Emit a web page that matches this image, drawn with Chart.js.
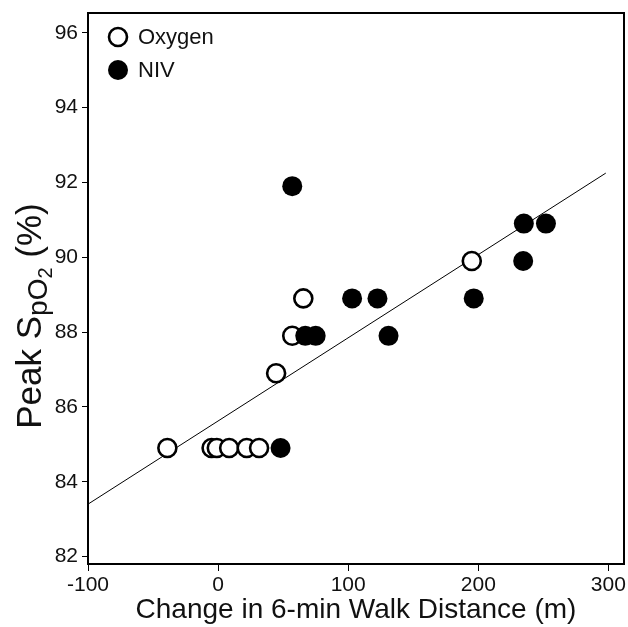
<!DOCTYPE html>
<html><head><meta charset="utf-8">
<script src="https://cdn.jsdelivr.net/npm/chart.js@4/dist/chart.umd.min.js"></script>
<style>html,body{margin:0;padding:0;background:#fff;}</style>
</head><body>
<canvas id="c" width="628" height="627" style="width:628px;height:627px;display:block"></canvas>
<script>
// ---- data ----
const seriesNames = ['Oxygen', 'NIV'];
const oxygenX = [-39, -5, -1, 8.5, 22, 31.5, 44.6, 57, 65.5, 195];
const oxygenY = [84.9, 84.9, 84.9, 84.9, 84.9, 84.9, 86.9, 87.9, 88.9, 89.9];
const nivX = [48, 57, 67, 75, 103, 122.5, 131, 196.5, 234.5, 235, 252];
const nivY = [84.9, 91.9, 87.9, 87.9, 88.9, 88.9, 87.9, 88.9, 89.9, 90.9, 90.9];
const fitX = [-100, 298];
const fitY = [83.4, 92.25];
const xTicks = [-100, 0, 100, 200, 300];
const yTicks = [82, 84, 86, 88, 90, 92, 94, 96];
const xTitle = 'Change in 6-min Walk Distance (m)';
const yTitleParts = ['Peak S', 'pO', '2', ' (%)'];

const FONT = '"Liberation Sans", Arial, Helvetica, sans-serif';
const toPts = (xs, ys) => xs.map((x, i) => ({x, y: ys[i]}));

const boxPlugin = {
  id: 'box',
  afterDatasetsDraw(chart) {
    const {ctx, chartArea: a} = chart;
    ctx.save();
    ctx.strokeStyle = '#000';
    ctx.lineWidth = 2;
    ctx.beginPath();
    ctx.moveTo(a.left, a.top);
    ctx.lineTo(a.right, a.top);
    ctx.lineTo(a.right, a.bottom);
    ctx.stroke();
    ctx.restore();
  }
};

// legend drawn from the dataset styles, in the top-left corner of the plot
const legendPlugin = {
  id: 'cornerLegend',
  afterDraw(chart) {
    const {ctx, chartArea: a} = chart;
    ctx.save();
    const rowY = [a.top + 24, a.top + 57];
    chart.data.datasets.slice(0, 2).forEach((ds, i) => {
      const cx = a.left + 30, cy = rowY[i];
      ctx.beginPath();
      ctx.arc(cx, cy, ds.pointRadius, 0, Math.PI * 2);
      ctx.fillStyle = ds.backgroundColor;
      ctx.fill();
      if (ds.pointBorderWidth > 0) {
        ctx.lineWidth = ds.pointBorderWidth;
        ctx.strokeStyle = ds.borderColor;
        ctx.stroke();
      }
      ctx.fillStyle = '#111';
      ctx.font = '22px ' + FONT;
      ctx.textBaseline = 'middle';
      ctx.textAlign = 'left';
      ctx.fillText(ds.label, a.left + 50, cy + 1);
    });
    ctx.restore();
  }
};

const yTitlePlugin = {
  id: 'ytitle',
  afterDraw(chart) {
    const ctx = chart.ctx;
    const big = 35, mid = 28, small = 20;
    ctx.save();
    ctx.fillStyle = '#111';
    ctx.textBaseline = 'alphabetic';
    ctx.textAlign = 'left';
    const f = s => s + 'px ' + FONT;
    ctx.font = f(big); const w0 = ctx.measureText(yTitleParts[0]).width;
    const w3 = ctx.measureText(yTitleParts[3]).width;
    ctx.font = f(mid); const w1 = ctx.measureText(yTitleParts[1]).width;
    ctx.font = f(small); const w2 = ctx.measureText(yTitleParts[2]).width;
    const total = w0 + w1 + w2 + w3;
    const cx = 41, cy = 316;
    ctx.translate(cx, cy);
    ctx.rotate(-Math.PI / 2);
    let x = -total / 2;
    ctx.font = f(big); ctx.fillText(yTitleParts[0], x, 0); x += w0;
    ctx.font = f(mid); ctx.fillText(yTitleParts[1], x, 6); x += w1;
    ctx.font = f(small); ctx.fillText(yTitleParts[2], x, 11); x += w2;
    ctx.font = f(big); ctx.fillText(yTitleParts[3], x, 0);
    ctx.restore();
  }
};

new Chart(document.getElementById('c'), {
  data: {
    datasets: [
      {
        type: 'scatter', label: seriesNames[0], data: toPts(oxygenX, oxygenY), order: 1,
        pointRadius: 9, pointHoverRadius: 9, pointBorderWidth: 2.6, borderWidth: 2.6,
        backgroundColor: '#fff', borderColor: '#000', pointStyle: 'circle'
      },
      {
        type: 'scatter', label: seriesNames[1], data: toPts(nivX, nivY), order: 0,
        pointRadius: 10, pointHoverRadius: 10, pointBorderWidth: 0, borderWidth: 0,
        backgroundColor: '#000', borderColor: '#000', pointStyle: 'circle'
      },
      {
        type: 'line', label: 'fit', data: toPts(fitX, fitY), order: 2,
        borderColor: '#000', borderWidth: 1, pointRadius: 0, fill: false, tension: 0
      }
    ]
  },
  options: {
    responsive: false,
    devicePixelRatio: 1,
    animation: false,
    layout: { autoPadding: false, padding: { left: 0, top: 13, right: 4, bottom: 0 } },
    plugins: {
      tooltip: { enabled: false },
      legend: { display: false }
    },
    scales: {
      x: {
        type: 'linear', min: -100, max: 312,
        afterBuildTicks: s => { s.ticks = xTicks.map(v => ({value: v})); },
        afterFit: s => { s.height = 63; s.paddingLeft = 0; s.paddingRight = 0; },
        grid: { drawOnChartArea: false, drawTicks: true, tickLength: 7, color: '#000', lineWidth: 1 },
        border: { display: true, color: '#000', width: 2 },
        ticks: { color: '#111', font: { family: FONT, size: 21 }, padding: 2, maxRotation: 0 },
        title: { display: true, text: xTitle, color: '#111', font: { family: FONT, size: 28 }, padding: { top: 0, bottom: 0 } }
      },
      y: {
        type: 'linear', min: 81.8, max: 96.53,
        afterBuildTicks: s => { s.ticks = yTicks.map(v => ({value: v})); },
        afterFit: s => { s.width = 88; s.paddingTop = 0; s.paddingBottom = 0; },
        grid: { drawOnChartArea: false, drawTicks: true, tickLength: 6, color: '#000', lineWidth: 1 },
        border: { display: true, color: '#000', width: 2 },
        ticks: { color: '#111', font: { family: FONT, size: 21 }, padding: 4 }
      }
    }
  },
  plugins: [boxPlugin, legendPlugin, yTitlePlugin]
});
</script>
</body></html>
